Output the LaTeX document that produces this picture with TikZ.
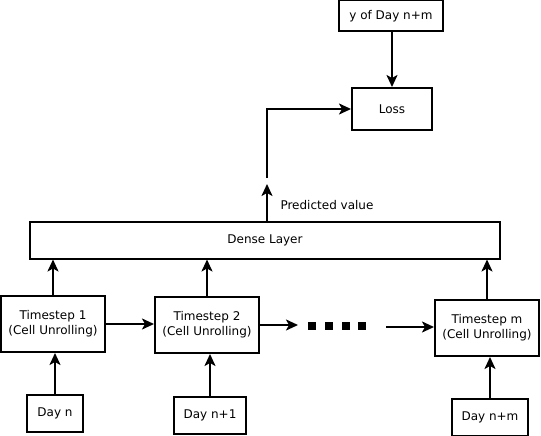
\documentclass[tikz,border=0pt]{standalone}
\usepackage{fontspec}
\setmainfont{DejaVu Sans}
\usetikzlibrary{arrows.meta,positioning,calc}
\tikzset{
  blk/.style={draw=black, line width=2pt, fill=white, inner sep=2pt, align=center, font=\fontsize{12}{15}\selectfont},
  cellbox/.style={blk, minimum width=104pt, minimum height=56pt},
  daybox/.style={blk, minimum height=37pt},
  arr/.style={-{Stealth[length=12pt,width=11pt,inset=3pt]}, line width=2pt, draw=black},
  dotsq/.style={fill=black, inner sep=0pt, minimum size=8pt},
}
\begin{document}
\begin{tikzpicture}[x=1pt,y=-1pt]
  \useasboundingbox (0,0) rectangle (541,436);
  % top part
  \node[blk, minimum width=104pt, minimum height=31pt] (ytrue) at (391,16) {y of Day n+m};
  \node[blk, minimum width=80pt, minimum height=42pt] (loss) at (392,109) {Loss};
  \node[blk, minimum width=470pt, minimum height=37pt] (dense) at (265,240) {Dense Layer};
  \coordinate (pvtip) at (267,184);
  \coordinate (pvtail) at (267,178);
  \node[font=\fontsize{12}{15}\selectfont, anchor=west] (pvlbl) at (277,205) {Predicted value};
  % cells
  \node[cellbox] (ts1) at (53,324) {Timestep 1\\(Cell Unrolling)};
  \node[cellbox] (ts2) at (207,325) {Timestep 2\\(Cell Unrolling)};
  \node[cellbox] (tsm) at (487,328) {Timestep m\\(Cell Unrolling)};
  \node[daybox, minimum width=56pt] (dayn) at (55,413) {Day n};
  \node[daybox, minimum width=72pt] (dayn1) at (210,415) {Day n+1};
  \node[daybox, minimum width=76pt] (daynm) at (490,417) {Day n+m};
  % dots
  \foreach \i/\xx in {1/312,2/329,3/346,4/362}
    \node[dotsq] (dot\i) at (\xx,326) {};
  \coordinate (dotsL) at (298,325);
  \coordinate (dotsR) at (386,327);
  % connectors
  \draw[arr] (ytrue.south -| loss) -- (loss);
  \draw[arr] (dense.north -| pvtip) -- (pvtip);
  \draw[arr] (pvtail) |- (loss.west);
  \draw[arr] (ts1.north) -- (ts1.north |- dense.south);
  \draw[arr] (ts2.north) -- (ts2.north |- dense.south);
  \draw[arr] (tsm.north) -- (tsm.north |- dense.south);
  \draw[arr] (dayn.north) -- (dayn.north |- ts1.south);
  \draw[arr] (dayn1.north) -- (dayn1.north |- ts2.south);
  \draw[arr] (daynm.north) -- (daynm.north |- tsm.south);
  \draw[arr] (ts1.east) -- (ts1.east -| ts2.west);
  \draw[arr] (ts2.east) -- (dotsL);
  \draw[arr] (dotsR) -- (tsm.west |- dotsR);
\end{tikzpicture}
\end{document}
